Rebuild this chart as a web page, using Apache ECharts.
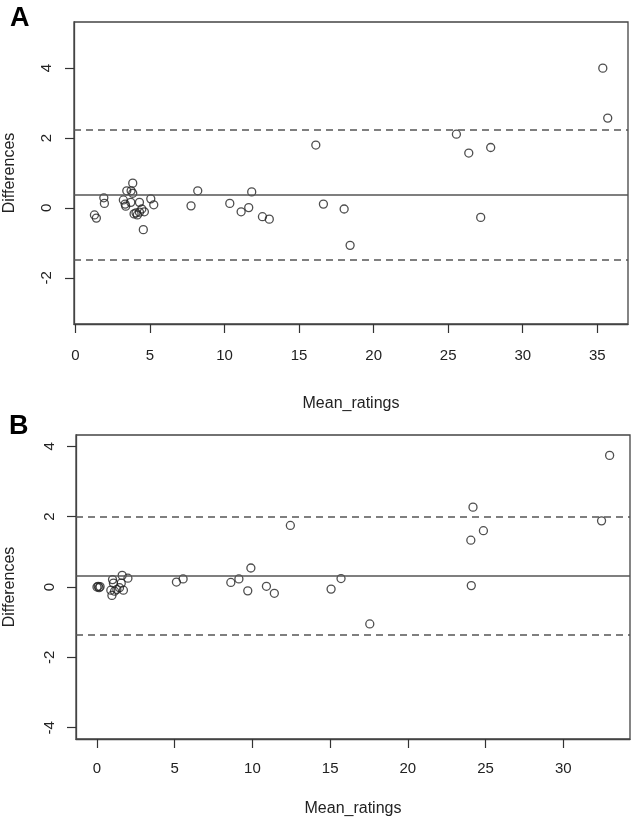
<!DOCTYPE html>
<html>
<head>
<meta charset="utf-8">
<script src="https://cdn.jsdelivr.net/npm/echarts@6/dist/echarts.min.js"></script>
<style>
html,body{margin:0;padding:0;background:#fff;}
#chart{width:632px;height:817px;}
</style>
</head>
<body>
<div id="chart"></div>
<script>
// Panel A data
var meanRatingsA = [1.27,1.40,1.90,1.94,3.21,3.33,3.37,3.44,3.73,3.84,3.84,3.71,3.93,4.15,4.29,4.45,4.62,4.55,5.05,5.25,4.29,4.06,7.75,8.20,10.35,11.11,11.62,11.82,12.54,13.00,16.12,16.63,18.02,18.42,25.55,26.38,27.85,27.18,35.37,35.70];
var differencesA = [-0.20,-0.29,0.29,0.13,0.23,0.11,0.05,0.49,0.49,0.71,0.42,0.16,-0.17,-0.20,0.16,-0.03,-0.11,-0.62,0.26,0.09,-0.12,-0.14,0.06,0.49,0.13,-0.11,0.01,0.46,-0.25,-0.32,1.80,0.11,-0.03,-1.07,2.11,1.57,1.73,-0.27,4.00,2.57];
var linesA = {mean: 0.37, upper: 2.24, lower: -1.49};

// Panel B data
var meanRatingsB = [0.00,0.08,0.14,0.20,1.00,1.06,0.89,0.96,1.13,1.28,1.62,1.56,1.70,1.99,1.45,5.11,5.54,8.61,9.13,9.90,9.70,10.90,11.41,12.44,15.06,15.70,17.55,24.19,24.86,24.05,24.08,32.46,32.98];
var differencesB = [0.00,0.02,-0.02,0.01,0.21,0.11,-0.09,-0.24,-0.12,-0.07,0.33,0.11,-0.09,0.25,-0.02,0.14,0.23,0.13,0.23,0.54,-0.11,0.02,-0.18,1.75,-0.06,0.24,-1.05,2.27,1.60,1.33,0.04,1.88,3.74];
var linesB = {mean: 0.33, upper: 2.01, lower: -1.37};

// Tick labels
var xTicksA = [0,5,10,15,20,25,30,35];
var xTicksB = [0,5,10,15,20,25,30];
var yTicksA = [-2,0,2,4];
var yTicksB = [-4,-2,0,2,4];

function zip(xs, ys){ return xs.map(function(x,i){ return [x, ys[i]]; }); }

var FONT = '"Liberation Sans", Arial, sans-serif';
var TXT = '#222';

function xAxisCfg(gi, min, max, ticks, labelMargin, nameGap){
  return {
    type:'value', gridIndex:gi, min:min, max:max, position:'bottom',
    name:'Mean_ratings', nameLocation:'middle', nameGap:nameGap,
    nameTextStyle:{fontFamily:FONT, fontSize:16, color:TXT},
    axisLine:{show:true, onZero:false, lineStyle:{color:'#444', width:1.3}},
    axisTick:{show:true, inside:false, length:9, customValues:ticks, lineStyle:{color:'#333', width:1.2}},
    axisLabel:{show:true, customValues:ticks, margin:labelMargin, fontFamily:FONT, fontSize:15, color:TXT},
    splitLine:{show:false}
  };
}
function yAxisCfg(gi, min, max, ticks, labelMargin, nameGap){
  return {
    type:'value', gridIndex:gi, min:min, max:max, position:'left',
    name:'Differences', nameLocation:'middle', nameGap:nameGap, nameRotate:90,
    nameTextStyle:{fontFamily:FONT, fontSize:16, color:TXT},
    axisLine:{show:true, onZero:false, lineStyle:{color:'#444', width:1.3}},
    axisTick:{show:true, inside:false, length:9, customValues:ticks, lineStyle:{color:'#333', width:1.2}},
    axisLabel:{show:true, customValues:ticks, rotate:90, margin:labelMargin, align:'center', verticalAlign:'bottom',
      fontFamily:FONT, fontSize:15, color:TXT},
    splitLine:{show:false}
  };
}
function limitLines(l){
  return {
    silent:true, symbol:'none', label:{show:false},
    data:[
      {yAxis:l.mean, lineStyle:{type:'solid', color:'#555', width:1.5}},
      {yAxis:l.upper, lineStyle:{type:[7,5], color:'#555', width:1.5}},
      {yAxis:l.lower, lineStyle:{type:[7,5], color:'#555', width:1.5}}
    ]
  };
}
var pointStyle = {color:'rgba(0,0,0,0)', borderColor:'#222', borderWidth:1.3};

var chart = echarts.init(document.getElementById('chart'), null, {renderer:'canvas'});
chart.setOption({
  backgroundColor:'#fff',
  animation:false,
  title:[
    {text:'A', left:5, top:0, textStyle:{fontFamily:FONT, fontSize:27, fontWeight:'bold', color:'#000'}},
    {text:'B', left:4, top:408, textStyle:{fontFamily:FONT, fontSize:27, fontWeight:'bold', color:'#000'}}
  ],
  grid:[
    {left:74, top:22, width:554, height:302, show:true, borderColor:'#444', borderWidth:1.3, backgroundColor:'#fff',
     containLabel:false, outerBoundsMode:'none'},
    {left:76, top:435, width:554, height:304, show:true, borderColor:'#444', borderWidth:1.3, backgroundColor:'#fff',
     containLabel:false, outerBoundsMode:'none'}
  ],
  xAxis:[
    xAxisCfg(0, -0.1, 37.06, xTicksA, 24, 72),
    xAxisCfg(1, -1.35, 34.29, xTicksB, 22, 62)
  ],
  yAxis:[
    yAxisCfg(0, -3.32, 5.32, yTicksA, 20, 56),
    yAxisCfg(1, -4.32, 4.32, yTicksB, 19, 58)
  ],
  series:[
    {type:'scatter', xAxisIndex:0, yAxisIndex:0, data:zip(meanRatingsA, differencesA),
     symbol:'circle', symbolSize:8, itemStyle:pointStyle, markLine:limitLines(linesA), z:3},
    {type:'scatter', xAxisIndex:1, yAxisIndex:1, data:zip(meanRatingsB, differencesB),
     symbol:'circle', symbolSize:8, itemStyle:pointStyle, markLine:limitLines(linesB), z:3}
  ]
});
</script>
</body>
</html>
